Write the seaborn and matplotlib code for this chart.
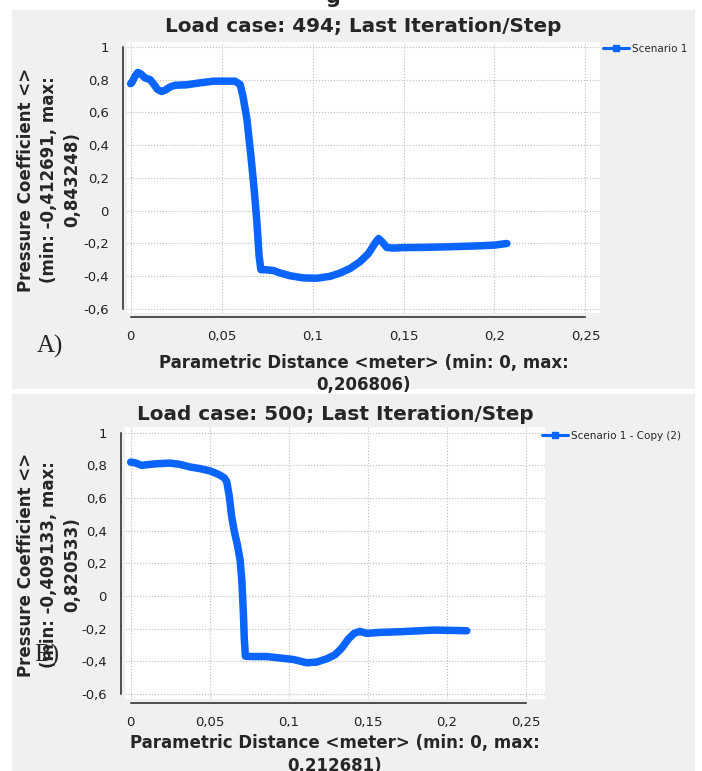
import matplotlib
matplotlib.use("Agg")
import matplotlib.pyplot as plt
from matplotlib.lines import Line2D
from matplotlib.patches import Rectangle
import pandas as pd
import seaborn as sns

# values
dist_a = [0.0, 0.0006, 0.0024, 0.0039, 0.0055, 0.0079, 0.0106, 0.0125, 0.0147, 0.0171,
          0.0193, 0.0217, 0.0244, 0.0308, 0.0382, 0.0455, 0.0528, 0.0574, 0.0602, 0.0617,
          0.0639, 0.0661, 0.0679, 0.0694, 0.0706, 0.0716, 0.0739, 0.0785, 0.0822, 0.0877,
          0.095, 0.1024, 0.1097, 0.1152, 0.1207, 0.1262, 0.1308, 0.1345, 0.1363, 0.1382,
          0.1409, 0.1446, 0.15, 0.16, 0.175, 0.19, 0.2, 0.206806]
cp_a = [0.775, 0.78, 0.82, 0.843, 0.835, 0.81, 0.80, 0.775, 0.74, 0.727,
        0.737, 0.755, 0.765, 0.768, 0.78, 0.79, 0.79, 0.79, 0.77, 0.70,
        0.56, 0.335, 0.13, -0.07, -0.275, -0.36, -0.36, -0.365, -0.38, -0.397,
        -0.41, -0.412, -0.40, -0.38, -0.352, -0.31, -0.26, -0.195, -0.17, -0.19,
        -0.225, -0.228, -0.225, -0.224, -0.22, -0.215, -0.21, -0.2]

dist_b = [0.0, 0.0027, 0.007, 0.0101, 0.0165, 0.0249, 0.0312, 0.0376, 0.0439, 0.0502,
          0.0555, 0.0591, 0.0608, 0.0624, 0.0639, 0.0656, 0.0675, 0.0692, 0.0703, 0.0713,
          0.0719, 0.0726, 0.0776, 0.0861, 0.0945, 0.103, 0.1114, 0.1177, 0.124, 0.1293,
          0.1335, 0.1378, 0.1414, 0.1451, 0.1494, 0.1578, 0.1705, 0.1831, 0.1916, 0.2042,
          0.212681]
cp_b = [0.82, 0.816, 0.80, 0.804, 0.81, 0.814, 0.806, 0.79, 0.78, 0.766,
        0.745, 0.725, 0.70, 0.61, 0.486, 0.395, 0.314, 0.223, 0.10, -0.10,
        -0.263, -0.369, -0.371, -0.371, -0.38, -0.389, -0.409, -0.405, -0.385, -0.36,
        -0.32, -0.263, -0.229, -0.217, -0.229, -0.223, -0.219, -0.213, -0.209, -0.211,
        -0.213]

x_ticks = [0, 0.05, 0.1, 0.15, 0.2, 0.25]
x_ticklabels = ["0", "0,05", "0,1", "0,15", "0,2", "0,25"]
y_ticks = [-0.6, -0.4, -0.2, 0, 0.2, 0.4, 0.6, 0.8, 1]
y_ticklabels = ["-0,6", "-0,4", "-0,2", "0", "0,2", "0,4", "0,6", "0,8", "1"]

titles = ["Load case: 494; Last Iteration/Step", "Load case: 500; Last Iteration/Step"]
series = ["Scenario 1", "Scenario 1 - Copy (2)"]
ylabels = ["Pressure Coefficient <>\n(min: -0,412691, max:\n0,843248)",
           "Pressure Coefficient <>\n(min: -0,409133, max:\n0,820533)"]
xlabels = ["Parametric Distance <meter> (min: 0, max:\n0,206806)",
           "Parametric Distance <meter> (min: 0, max:\n0,212681)"]
tags = ["A)", "B)"]

sns.set_style("white")
plt.rcParams["font.family"] = ["DejaVu Sans"]

blue = "#0a64ff"
panel_bg = "#f0f0f0"

W, H = 702, 771
fig = plt.figure(figsize=(W / 100, H / 100), dpi=100)


def fx(px):
    return px / W


def fy(py):
    return 1 - py / H


def fbox(l, t, r, b):
    return [fx(l), fy(b), (r - l) / W, (b - t) / H]


# layout of each exported panel, in pixels of the final image
panels = [
    dict(bg=(12, 10, 695, 389), ax=(127, 42, 600, 313), xlim=(-0.002, 0.258),
         ylim=(-0.624, 1.029), leg=(603, 44), ylab=(49, 180), tag=(50, 346),
         tpad=7, xlab_y=-0.15),
    dict(bg=(12, 394, 695, 771), ax=(125, 427, 545, 699), xlim=(-0.0036, 0.2622),
         ylim=(-0.631, 1.035), leg=(542, 431), ylab=(49, 565), tag=(47, 655),
         tpad=5, xlab_y=-0.13),
]
data = [pd.DataFrame({"dist": dist_a, "cp": cp_a}),
        pd.DataFrame({"dist": dist_b, "cp": cp_b})]

# cut-off heading from the page above the figure
fig.text(fx(333), fy(3), "g", fontsize=15, fontweight="bold", ha="center", va="baseline")

for i, p in enumerate(panels):
    l, t, r, b = p["bg"]
    fig.patches.append(Rectangle((fx(l), fy(b)), (r - l) / W, (b - t) / H,
                                 transform=fig.transFigure, facecolor=panel_bg,
                                 edgecolor="none", zorder=-10))
    ax = fig.add_axes(fbox(*p["ax"]))
    ax.set_facecolor("white")
    sns.lineplot(data=data[i], x="dist", y="cp", ax=ax, sort=False, color=blue,
                 linewidth=5.4, legend=False)

    ax.set_xlim(*p["xlim"])
    ax.set_ylim(*p["ylim"])
    ax.set_xticks(x_ticks)
    ax.set_xticklabels(x_ticklabels)
    ax.set_yticks(y_ticks)
    ax.set_yticklabels(y_ticklabels)
    ax.grid(True, color="#bcbcbc", linestyle=":", linewidth=0.8)

    for s in ["top", "right"]:
        ax.spines[s].set_visible(False)
    ax.spines["left"].set_position(("outward", 3))
    ax.spines["bottom"].set_position(("outward", 3))
    ax.spines["left"].set_bounds(-0.6, 1)
    ax.spines["bottom"].set_bounds(0, 0.25)
    for s in ["left", "bottom"]:
        ax.spines[s].set_color("#222222")
        ax.spines[s].set_linewidth(1.1)
    ax.tick_params(axis="both", direction="out", width=1.1, color="#222222",
                   labelsize=9.5, labelcolor="#222222")
    ax.tick_params(axis="y", length=6.5, pad=3.5)
    ax.tick_params(axis="x", length=6, pad=3.5)

    ax.set_title(titles[i], fontsize=14.4, fontweight="bold", pad=p["tpad"])
    ax.set_xlabel(xlabels[i], fontsize=12, fontweight="bold", linespacing=1.3)
    ax.xaxis.set_label_coords(0.5, p["xlab_y"])
    ax.xaxis.label.set_va("top")
    ax.set_ylabel("")
    fig.text(fx(p["ylab"][0]), fy(p["ylab"][1]), ylabels[i], rotation=90,
             ha="center", va="center", multialignment="center", fontsize=12,
             fontweight="bold", linespacing=1.35)

    handle = Line2D([0], [0], color=blue, linewidth=2.2, marker="s", markersize=4.5)
    ax.legend([handle], [series[i]], loc="upper left",
              bbox_to_anchor=(fx(p["leg"][0]), fy(p["leg"][1])),
              bbox_transform=fig.transFigure, frameon=False, fontsize=7.5,
              handlelength=2.5, handletextpad=0.3, borderpad=0, borderaxespad=0)

    fig.text(fx(p["tag"][0]), fy(p["tag"][1]), tags[i], fontsize=18,
             family="Liberation Serif", ha="center", va="center")

fig.savefig("out.png", dpi=100)
